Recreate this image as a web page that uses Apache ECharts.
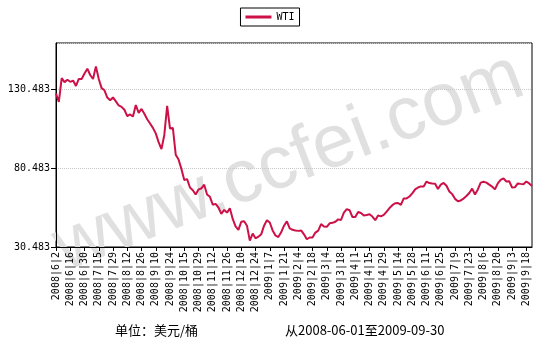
<!DOCTYPE html>
<html>
<head>
<meta charset="utf-8">
<script src="https://cdn.jsdelivr.net/npm/echarts@6/dist/echarts.min.js"></script>
<style>html,body{margin:0;padding:0;background:#fff;}#c{width:540px;height:351px;}</style>
</head>
<body>
<div id="c"></div>
<script>
var tickLabels = ['2008|6|2','2008|6|16','2008|6|30','2008|7|15','2008|7|29','2008|8|12','2008|8|26','2008|9|10','2008|9|24',
  '2008|10|15','2008|10|29','2008|11|12','2008|11|26','2008|12|10','2008|12|24','2009|1|7','2009|1|21','2009|2|4','2009|2|18',
  '2009|3|4','2009|3|18','2009|4|1','2009|4|15','2009|4|29','2009|5|14','2009|5|28','2009|6|11','2009|6|25','2009|7|9',
  '2009|7|23','2009|8|6','2009|8|20','2009|9|3','2009|9|18'];
var wti = [127.8,122.4,137.5,135.0,136.5,135.2,136.0,132.6,137.0,137.0,
140.5,143.5,139.5,137.0,145.0,137.0,131.2,129.8,125.2,123.5,
125.3,122.8,120.2,119.3,117.5,113.4,114.5,113.2,120.5,115.5,
118.0,115.0,111.5,108.8,106.0,102.5,97.0,92.5,101.5,120.0,
105.6,106.0,89.0,86.0,80.0,73.0,73.5,68.2,66.5,63.8,
67.0,67.6,70.0,63.8,62.3,57.3,57.8,55.5,51.5,54.0,
52.3,55.0,48.3,43.5,41.3,46.5,46.8,44.0,34.5,39.0,
36.0,37.0,38.5,44.0,47.5,46.0,41.0,37.8,36.8,39.8,
44.0,46.8,42.3,41.4,41.0,40.7,41.0,38.5,35.4,36.5,
36.5,39.6,40.9,45.0,43.5,43.3,45.5,45.8,46.5,48.0,
47.6,52.3,54.5,53.8,49.5,49.5,52.7,52.0,50.5,50.8,
51.2,49.8,47.5,50.5,49.9,50.8,52.9,55.2,57.0,58.2,
58.4,57.2,61.3,61.3,62.5,64.5,67.0,68.2,68.9,68.8,
72.0,71.0,70.7,70.6,67.2,70.0,71.1,69.3,65.7,64.0,
61.0,59.5,60.0,61.2,62.8,64.7,67.5,63.8,67.0,71.3,
71.8,71.3,70.0,68.8,67.0,70.8,73.0,74.0,72.0,72.2,
68.2,68.3,70.8,70.5,70.3,72.0,70.8,69.2];
var yMin = 30.483, yMax = 159.8, yStep = 50;
var pointsPerTick = 5;

var categories = wti.map(function (v, i) {
  return i % pointsPerTick === 0 ? (tickLabels[i / pointsPerTick] || '') : '';
});

var chart = echarts.init(document.getElementById('c'), null, {renderer: 'canvas'});
chart.setOption({
  animation: false,
  backgroundColor: '#fff',
  legend: {
    top: 8, left: 'center',
    data: [{name: 'WTI', icon: 'rect'}],
    itemWidth: 26, itemHeight: 3,
    borderColor: '#000', borderWidth: 1, padding: [4, 5],
    textStyle: {fontFamily: 'DejaVu Sans Mono', fontSize: 10, color: '#000'}
  },
  grid: {left: 56, right: 8, top: 43, bottom: 104, show: true, borderColor: '#000', borderWidth: 1, containLabel: false},
  xAxis: {
    type: 'category', data: categories, boundaryGap: false,
    axisLine: {lineStyle: {color: '#000', width: 1}},
    axisTick: {interval: pointsPerTick - 1, length: 4, lineStyle: {color: '#000'}},
    axisLabel: {interval: pointsPerTick - 1, rotate: 90, margin: 5, color: '#000',
      fontFamily: 'DejaVu Sans Mono', fontSize: 10},
    splitLine: {show: false}
  },
  yAxis: {
    type: 'value', min: yMin, max: yMax, interval: yStep,
    axisLine: {show: true, lineStyle: {color: '#000', width: 1}},
    axisTick: {show: true, length: 5, lineStyle: {color: '#000'}},
    axisLabel: {showMaxLabel: false, margin: 6, color: '#000', fontFamily: 'DejaVu Sans Mono', fontSize: 10,
      formatter: function (v) {
        var k = Math.round((v - yMin) / yStep);
        return (yMin + k * yStep).toFixed(3);
      }},
    splitLine: {show: true, lineStyle: {color: '#c8c8c8', type: 'dotted', width: 1}}
  },
  graphic: [
    {type: 'text', z: 0, x: 289, y: 163, rotation: 21 * Math.PI / 180,
      style: {text: 'www.ccfei.com', fill: '#e0e0e0', font: '75px "Liberation Sans", Arial, sans-serif',
        align: 'center', verticalAlign: 'middle'}},
    {type: 'text', z: 10, left: 115, top: 324,
      style: {text: '单位：美元/桶', fill: '#000', font: '13px "Noto Sans CJK SC", sans-serif'}},
    {type: 'text', z: 10, left: 285, top: 324,
      style: {text: '从2008-06-01至2009-09-30', fill: '#000', font: '13px "Noto Sans CJK SC", sans-serif'}}
  ],
  series: [{
    name: 'WTI', type: 'line', data: wti, showSymbol: false, symbol: 'none',
    lineStyle: {color: '#cc1148', width: 2}, itemStyle: {color: '#cc1148'}, z: 5
  }]
});
</script>
</body>
</html>
